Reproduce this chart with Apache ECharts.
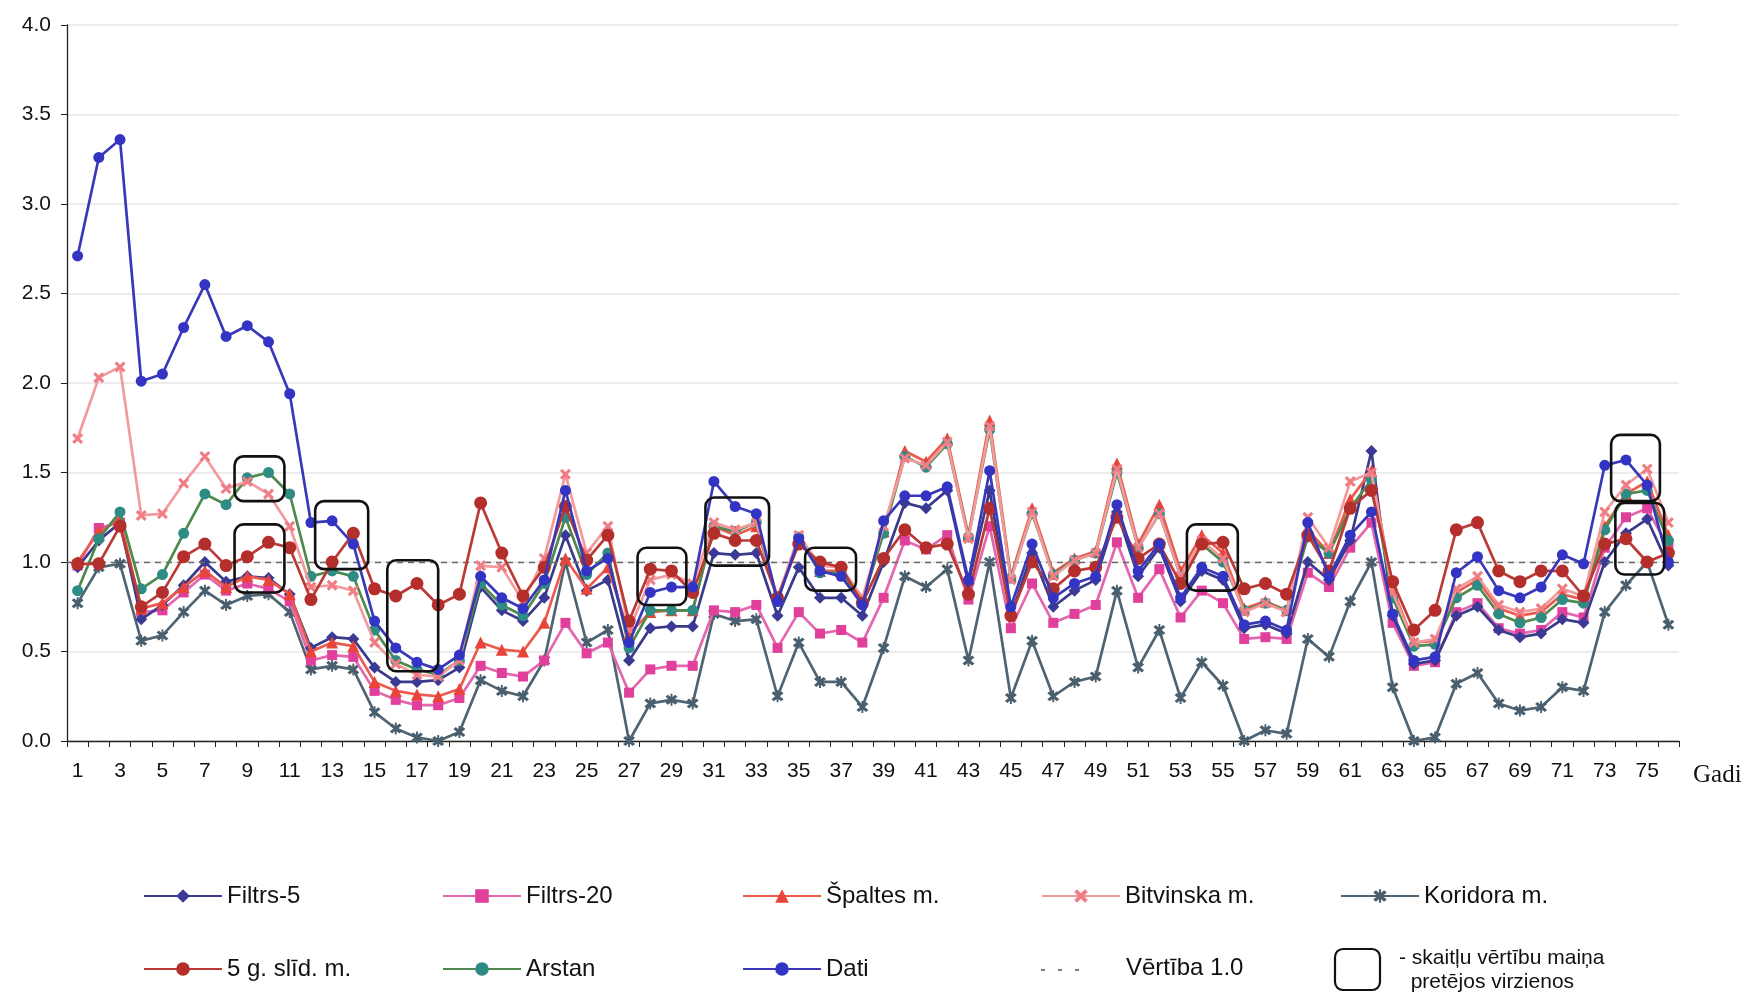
<!DOCTYPE html>
<html><head><meta charset="utf-8">
<script src="https://cdn.jsdelivr.net/npm/echarts@6/dist/echarts.min.js"></script>
<style>html,body{margin:0;padding:0;background:#fff}#c{width:1755px;height:1008px}</style>
</head><body><div id="c"></div>
<script>
const years = ['1','2','3','4','5','6','7','8','9','10','11','12','13','14','15','16','17','18','19','20','21','22','23','24','25','26','27','28','29','30','31','32','33','34','35','36','37','38','39','40','41','42','43','44','45','46','47','48','49','50','51','52','53','54','55','56','57','58','59','60','61','62','63','64','65','66','67','68','69','70','71','72','73','74','75','76'];
const yTicks = ['0.0','0.5','1.0','1.5','2.0','2.5','3.0','3.5','4.0'];

const dati = [2.71,3.26,3.36,2.01,2.05,2.31,2.55,2.26,2.32,2.23,1.94,1.22,1.23,1.10,0.67,0.52,0.44,0.40,0.48,0.92,0.80,0.74,0.90,1.40,0.95,1.02,0.55,0.83,0.86,0.86,1.45,1.31,1.27,0.78,1.13,0.95,0.92,0.76,1.23,1.37,1.37,1.42,0.90,1.51,0.75,1.10,0.80,0.88,0.92,1.32,0.95,1.10,0.80,0.97,0.92,0.65,0.67,0.62,1.22,0.92,1.15,1.28,0.71,0.45,0.47,0.94,1.03,0.84,0.80,0.86,1.04,0.99,1.54,1.57,1.43,1.00];
const filtrs5 = [0.97,1.12,1.22,0.68,0.76,0.87,1.00,0.89,0.92,0.91,0.82,0.52,0.58,0.57,0.41,0.33,0.33,0.34,0.41,0.86,0.73,0.67,0.80,1.15,0.84,0.90,0.45,0.63,0.64,0.64,1.05,1.04,1.05,0.70,0.97,0.80,0.80,0.70,1.00,1.33,1.30,1.40,0.88,1.40,0.70,1.05,0.75,0.84,0.90,1.28,0.92,1.08,0.78,0.95,0.90,0.63,0.65,0.60,1.00,0.90,1.12,1.62,0.70,0.43,0.45,0.70,0.75,0.62,0.58,0.60,0.68,0.66,1.00,1.16,1.24,0.98];
const filtrs20 = [0.98,1.19,1.22,0.72,0.73,0.83,0.93,0.84,0.88,0.85,0.78,0.45,0.48,0.47,0.28,0.23,0.20,0.20,0.24,0.42,0.38,0.36,0.45,0.66,0.49,0.55,0.27,0.40,0.42,0.42,0.73,0.72,0.76,0.52,0.72,0.60,0.62,0.55,0.80,1.12,1.07,1.15,0.79,1.20,0.63,0.88,0.66,0.71,0.76,1.11,0.80,0.96,0.69,0.84,0.77,0.57,0.58,0.57,0.94,0.86,1.08,1.22,0.66,0.42,0.44,0.72,0.77,0.63,0.60,0.62,0.72,0.69,1.08,1.25,1.30,1.08];
const spaltes = [1.00,1.17,1.24,0.74,0.77,0.86,0.95,0.86,0.92,0.90,0.82,0.50,0.55,0.53,0.33,0.28,0.26,0.25,0.29,0.55,0.51,0.50,0.66,1.02,0.85,0.97,0.60,0.72,0.73,0.73,1.20,1.15,1.20,0.80,1.13,0.95,0.95,0.78,1.17,1.62,1.56,1.69,1.15,1.79,0.92,1.30,0.94,1.02,1.06,1.55,1.10,1.32,0.95,1.15,1.05,0.74,0.78,0.73,1.18,1.05,1.35,1.51,0.85,0.55,0.56,0.83,0.90,0.74,0.70,0.72,0.82,0.79,1.20,1.38,1.45,1.15];
const bitvinska = [1.69,2.03,2.09,1.26,1.27,1.44,1.59,1.41,1.45,1.38,1.20,0.86,0.87,0.84,0.55,0.43,0.37,0.36,0.45,0.98,0.97,0.78,1.02,1.49,1.05,1.20,0.62,0.90,0.93,0.88,1.22,1.18,1.22,0.80,1.15,0.98,0.97,0.80,1.20,1.58,1.54,1.67,1.13,1.76,0.90,1.28,0.92,1.01,1.05,1.52,1.08,1.27,0.92,1.12,1.02,0.72,0.77,0.72,1.25,1.08,1.45,1.50,0.83,0.55,0.57,0.85,0.92,0.76,0.72,0.74,0.85,0.81,1.28,1.43,1.52,1.22];
const koridora = [0.77,0.97,0.99,0.56,0.59,0.72,0.84,0.76,0.81,0.82,0.72,0.40,0.42,0.40,0.16,0.07,0.02,0.00,0.05,0.34,0.28,0.25,0.45,1.00,0.55,0.62,0.00,0.21,0.23,0.21,0.71,0.67,0.68,0.25,0.55,0.33,0.33,0.19,0.52,0.92,0.86,0.96,0.45,1.00,0.24,0.56,0.25,0.33,0.36,0.84,0.41,0.62,0.24,0.44,0.31,0.00,0.06,0.04,0.57,0.47,0.78,1.00,0.30,0.00,0.02,0.32,0.38,0.21,0.17,0.19,0.30,0.28,0.72,0.87,1.00,0.65];
const slid5 = [0.99,0.99,1.20,0.75,0.83,1.03,1.10,0.98,1.03,1.11,1.08,0.79,1.00,1.16,0.85,0.81,0.88,0.76,0.82,1.33,1.05,0.81,0.97,1.31,1.01,1.15,0.67,0.96,0.95,0.83,1.16,1.12,1.12,0.80,1.10,1.00,0.97,0.77,1.02,1.18,1.08,1.10,0.82,1.30,0.70,1.00,0.85,0.95,0.97,1.25,1.02,1.10,0.88,1.10,1.11,0.85,0.88,0.82,1.15,0.95,1.30,1.40,0.89,0.62,0.73,1.18,1.22,0.95,0.89,0.95,0.95,0.81,1.10,1.13,1.00,1.05];
const arstan = [0.84,1.13,1.28,0.85,0.93,1.16,1.38,1.32,1.47,1.50,1.38,0.92,0.95,0.92,0.62,0.45,0.40,0.37,0.45,0.88,0.76,0.70,0.88,1.25,0.93,1.05,0.52,0.73,0.73,0.73,1.20,1.17,1.22,0.78,1.14,0.94,0.94,0.78,1.16,1.59,1.53,1.66,1.14,1.74,0.91,1.27,0.93,1.01,1.05,1.50,1.08,1.27,0.92,1.10,1.00,0.73,0.77,0.73,1.14,1.05,1.30,1.46,0.80,0.53,0.54,0.80,0.87,0.71,0.66,0.69,0.79,0.77,1.18,1.38,1.40,1.12];

// annotation boxes (years from/to, value top/bottom)
const boxFrom = [8.4, 8.4, 12.2, 15.6, 27.4, 30.6, 35.3, 53.3, 73.3, 73.5];
const boxTo = [10.75, 10.75, 14.7, 18.0, 29.7, 33.6, 37.7, 55.7, 75.6, 75.8];
const boxTop = [1.59, 1.21, 1.34, 1.01, 1.08, 1.36, 1.08, 1.21, 1.71, 1.33];
const boxBottom = [1.34, 0.83, 0.96, 0.39, 0.76, 0.98, 0.84, 0.84, 1.34, 0.93];

const chart = echarts.init(document.getElementById('c'));

const xSym = 'path://M2,0L5,3L8,0L10,2L7,5L10,8L8,10L5,7L2,10L0,8L3,5L0,2Z';
const astSym = 'path://M2,0L5,3L8,0L10,2L7,5L10,8L8,10L5,7L2,10L0,8L3,5L0,2Z M4.2,-1L5.8,-1L5.8,11L4.2,11Z';

function lineSeries(name, data, color, lineColor, symbol, size, z) {
  return {
    name, type: 'line', data, symbol, symbolSize: size, z,
    itemStyle: { color },
    lineStyle: { color: lineColor, width: 2.7 },
    emphasis: { disabled: true },
    animation: false
  };
}

const series = [
  lineSeries('Koridora m.', koridora, '#4a5f6e', '#4f6472', astSym, 12, 2),
  lineSeries('Filtrs-20', filtrs20, '#e0409c', '#e466ae', 'rect', 10, 3),
  lineSeries('Filtrs-5', filtrs5, '#3a3a96', '#3a3a8a', 'diamond', 12, 4),
  lineSeries('Špaltes m.', spaltes, '#e8443a', '#ec5a4e', 'triangle', 12, 5),
  lineSeries('Arstan', arstan, '#2f8c84', '#4e8a4e', 'circle', 11, 6),
  lineSeries('Bitvinska m.', bitvinska, '#f07c84', '#f39a9c', xSym, 11, 7),
  lineSeries('5 g. slīd. m.', slid5, '#b42e2c', '#bb3a36', 'circle', 13, 8),
  lineSeries('Dati', dati, '#3434c4', '#3838b8', 'circle', 11, 9),
  {
    name: 'Vērtība 1.0', type: 'line', data: [], symbol: 'none', silent: true,
    markLine: {
      silent: true, symbol: 'none', label: { show: false },
      lineStyle: { color: '#6a6a6a', type: [6, 5], width: 1.3 },
      data: [{ yAxis: 1 }]
    }
  },
  {
    name: 'boxes', type: 'custom', z: 20, silent: true, clip: false,
    data: boxFrom.map((v, i) => [i, 0]),
    renderItem(params, api) {
      const i = params.dataIndex;
      const bw = api.size([1, 0])[0];
      const x0 = api.coord([0, 0])[0];
      const xa = x0 + (boxFrom[i] - 1) * bw;
      const xb = x0 + (boxTo[i] - 1) * bw;
      const ya = api.coord([0, boxTop[i]])[1];
      const yb = api.coord([0, boxBottom[i]])[1];
      return { type: 'rect', shape: { x: xa, y: ya, width: xb - xa, height: yb - ya, r: 9 },
               style: { fill: 'none', stroke: '#111', lineWidth: 2.6 } };
    }
  }
];

const legFont = { fontFamily: 'Liberation Sans Narrow, Liberation Sans, Arial', fontSize: 24, color: '#111' };
function leg(name, left, top) {
  return { data: [name], left, top, itemWidth: 78, itemHeight: 17, itemGap: 0, padding: 0,
           textStyle: legFont, selectedMode: false };
}

chart.setOption({
  animation: false,
  backgroundColor: '#fff',
  grid: { left: 67, right: 76, top: 25, bottom: 267, containLabel: false },
  xAxis: {
    type: 'category', data: years, boundaryGap: true,
    name: 'Gadi', nameLocation: 'end', nameGap: 14,
    nameTextStyle: { fontFamily: 'Liberation Serif, Times New Roman', fontSize: 25, color: '#111', verticalAlign: 'top', padding: [22, 0, 0, 0] },
    axisLine: { lineStyle: { color: '#222', width: 1.3 } },
    axisTick: { show: true, alignWithLabel: false, interval: 0, length: 6, lineStyle: { color: '#222' } },
    axisLabel: { interval: 1, margin: 20, fontFamily: 'Liberation Sans, Arial', fontSize: 21, color: '#111' },
    splitLine: { show: false }
  },
  yAxis: {
    type: 'value', min: 0, max: 4, interval: 0.5,
    axisLine: { show: true, lineStyle: { color: '#222', width: 1.3 } },
    axisTick: { show: true, length: 6, inside: false, lineStyle: { color: '#222' } },
    axisLabel: { margin: 16, fontFamily: 'Liberation Sans, Arial', fontSize: 21, color: '#111',
                 formatter: v => yTicks[Math.round(v / 0.5)] },
    splitLine: { show: true, lineStyle: { color: '#ececec', width: 2 } }
  },
  legend: [
    leg('Filtrs-5', 143, 884),
    leg('Filtrs-20', 442, 884),
    leg('Špaltes m.', 742, 884),
    leg('Bitvinska m.', 1041, 884),
    leg('Koridora m.', 1340, 884),
    leg('5 g. slīd. m.', 143, 957),
    leg('Arstan', 442, 957),
    leg('Dati', 742, 957)
  ],
  graphic: [
    { type: 'line', shape: { x1: 1041, y1: 970, x2: 1082, y2: 970 }, style: { stroke: '#555', lineWidth: 1.6, lineDash: [4, 13] } },
    { type: 'text', left: 1126, top: 956, style: { text: 'Vērtība 1.0', font: '24px "Liberation Sans Narrow", "Liberation Sans"', fill: '#111' } },
    { type: 'rect', shape: { x: 1335, y: 949, width: 45, height: 41, r: 8 }, style: { fill: 'none', stroke: '#111', lineWidth: 2.2 } },
    { type: 'text', left: 1399, top: 946, style: { text: '- skaitļu vērtību maiņa\n  pretējos virzienos', font: '21px "Liberation Sans Narrow", "Liberation Sans"', fill: '#111', lineHeight: 24 } }
  ],
  series
});
</script>
</body></html>
